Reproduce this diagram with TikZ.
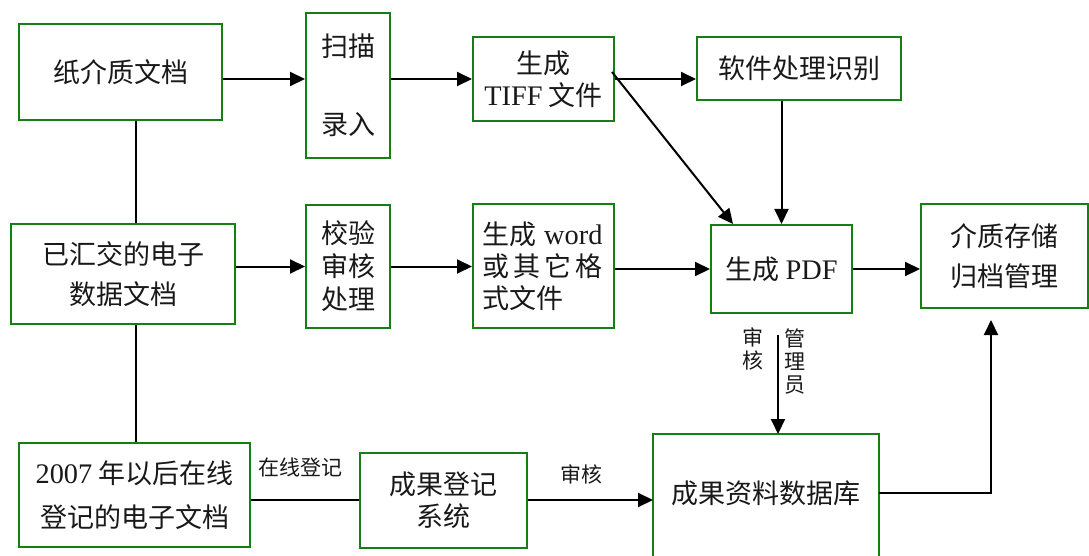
\documentclass[tikz,border=0pt]{standalone}
\usepackage{fontspec}
\setmainfont{Liberation Serif}[Scale=1.05]
\newfontfamily\cjk{Noto Sans CJK SC}
\usetikzlibrary{arrows.meta}
\definecolor{boxgreen}{RGB}{20,128,20}
\begin{document}
\begin{tikzpicture}[x=1pt,y=-1pt,
  box/.style={draw=boxgreen,line width=2pt,inner sep=0pt,align=center,text=black!90,
    font=\cjk\fontsize{27}{32}\selectfont},
  conn/.style={line width=2pt,draw=black},
  arr/.style={conn,-{Triangle[length=15pt,width=14pt]}},
  lbl/.style={inner sep=0pt,align=center,text=black!90,font=\cjk\fontsize{21}{23}\selectfont}]
\useasboundingbox (0,0) rectangle (1089,556);

% boxes
\node[box,minimum width=203pt,minimum height=96pt] (b1) at (120.5,72) {纸介质文档};
\node[box,minimum width=84pt,minimum height=145pt,font=\cjk\fontsize{27}{78}\selectfont] (b2) at (348,85.5) {扫描\\录入};
\node[box,minimum width=141pt,minimum height=84pt] (b3) at (543.5,79) {生成\\{\rmfamily TIFF} 文件};
\node[box,minimum width=204pt,minimum height=63pt] (b4) at (799,68.5) {软件处理识别};
\node[box,minimum width=224pt,minimum height=100pt,font=\cjk\fontsize{27}{40}\selectfont] (b5) at (123,274) {已汇交的电子\\数据文档};
\node[box,minimum width=84pt,minimum height=123pt,font=\cjk\fontsize{27}{33}\selectfont] (b6) at (348,266.5) {校验\\审核\\处理};
\node[box,minimum width=141pt,minimum height=124pt,align=left,text width=122pt,inner xsep=9.5pt] (b7) at (543.5,266)
  {\makebox[120pt][s]{生成\hfill{\rmfamily word}}\\\makebox[120pt][s]{或\hfill 其\hfill 它\hfill 格}\\式文件};
\node[box,minimum width=141pt,minimum height=88pt] (b8) at (781.5,269) {生成 {\rmfamily PDF}};
\node[box,minimum width=167pt,minimum height=104pt,font=\cjk\fontsize{27}{40}\selectfont] (b9) at (1004.5,256) {介质存储\\归档管理};
\node[box,minimum width=231pt,minimum height=104pt,font=\cjk\fontsize{27}{44}\selectfont] (b10) at (134.5,495) {{\rmfamily 2007} 年以后在线\\登记的电子文档};
\node[box,minimum width=167pt,minimum height=95pt] (b11) at (443.5,500) {成果登记\\系统};
\node[box,draw=none,minimum width=224pt,minimum height=116pt] (db) at (766,493) {成果资料数据库};
\draw[draw=boxgreen,line width=2pt] (db.north west) rectangle ([yshift=-20pt]db.south east);

% helper coordinates
\coordinate (vx) at (136,0);
\coordinate (v1) at (778,335);
\coordinate (t9) at (991,320);

% connectors, top row
\draw[arr] (b1.east |- b3.west) -- (b2.west |- b3.west);
\draw[arr] (b2.east |- b3.west) -- (b3.west);
\draw[arr] (b3.east) -- (b3.east -| b4.west);
\draw[arr] ([shift={(-3,-7)}]b3.east) -- ([xshift=23pt]b8.north west);
\draw[arr] (b4.south -| b8.north) -- (b8.north);

% vertical link on the left
\draw[conn] (b1.south -| vx) -- (b5.north -| vx);
\draw[conn] (b5.south -| vx) -- (b10.north -| vx);

% middle row
\draw[arr] (b5.east |- b6.west) -- (b6.west);
\draw[arr] (b6.east) -- (b6.east -| b7.west);
\draw[arr] (b7.east |- b8.west) -- (b8.west);
\draw[arr] (b8.east) -- (b8.east -| b9.west);

% bottom row
\draw[conn] (b10.east |- b11.west) -- (b11.west);
\draw[arr] (b11.east) -- (b11.east -| db.west);
\draw[arr] (v1) -- (v1 |- db.north);
\draw[arr] (db.east) -| (t9);

% labels
\node[lbl] (l1) at (300,467) {在线登记};
\node[lbl] (l2) at (581,474) {审核};
\node[lbl] (l3) at (753,348.5) {审\\核};
\node[lbl] (l4) at (795,361.5) {管\\理\\员};
\end{tikzpicture}
\end{document}
